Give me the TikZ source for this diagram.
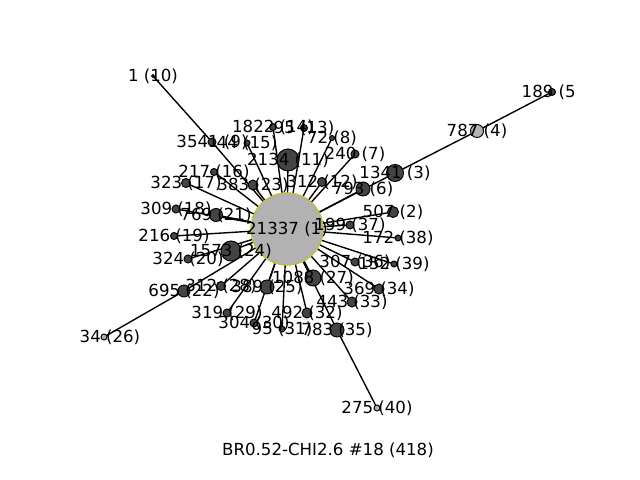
\documentclass[tikz,border=0pt]{standalone}
\usepackage{fontspec}
\setmainfont{DejaVu Sans}
\usetikzlibrary{backgrounds}
\definecolor{darkfill}{RGB}{68,68,68}
\definecolor{lightfill}{RGB}{178,178,178}
\definecolor{olive}{RGB}{191,191,64}
\begin{document}
\begin{tikzpicture}[x=0.01in,y=-0.01in,
  dk/.style={circle,fill=darkfill,draw=black,line width=0.7pt,inner sep=0pt,minimum size=#1*1.4454pt},
  lt/.style={circle,fill=lightfill,draw=black,line width=0.7pt,inner sep=0pt,minimum size=#1*1.4454pt},
  hub/.style={circle,fill=lightfill,draw=olive,line width=1pt,inner sep=0pt,minimum size=#1*1.4454pt},
  lbl/.style={inner sep=0pt,font=\fontsize{12}{14}\selectfont},
  edge/.style={draw=black,line width=1pt}]
\useasboundingbox (0,0) rectangle (640,480);
% nodes
\node[hub=36] (c) at (287,229) {};
\foreach \n/\x/\y/\r in {
  n2/393/212/5.5, n3/395/173/8.5, n5/552/92/3.5, n6/363/189/7,
  n7/355/154/4, n8/332/138/2.5, n9/212/142/4, n10/153/76/1.5,
  n11/288/160/11, n12/322/182/4.5, n13/304/128/3.5, n14/273/127/3.5,
  n15/247/143/3, n16/214/172/3.5, n17/186/183/4.5, n18/176/209/4,
  n19/174/236/3.5, n20/188/259/4, n21/216/215/6.5, n22/184/291/6,
  n23/253/185/5, n24/231/251/10, n25/267/287/7, n27/313/278/8,
  n28/221/286/4.5, n29/227/313/4, n30/254/323/4, n31/282/329/3,
  n32/307/313/5, n33/352/302/5, n34/379/289/5, n35/337/330/7,
  n36/355/262/4, n37/350/225/4, n38/398/238/3, n39/394/264/3}
  {\node[dk=\r] (\n) at (\x,\y) {};}
\node[lt=6.5] (n4) at (477,131) {};
\node[lt=3] (n26) at (104,337) {};
\node[lt=3] (n40) at (377,408) {};
% edges
\begin{scope}[on background layer]
  \foreach \n in {n2,n3,n6,n7,n8,n9,n11,n12,n13,n14,n15,n16,n17,n18,n19,n20,
    n21,n22,n23,n24,n25,n27,n28,n29,n30,n31,n32,n33,n34,n35,n36,n37,n38,n39}
    {\draw[edge] (c.center) -- (\n.center);}
  \draw[edge] (n9.center) -- (n10.center);
  \draw[edge] (n22.center) -- (n26.center);
  \draw[edge] (n35.center) -- (n40.center);
  \draw[edge] (n3.center) -- (n4.center);
  \draw[edge] (n4.center) -- (n5.center);
\end{scope}
% labels
\begin{scope}
  \clip (0,57.6) rectangle (576,427);
  \node[lbl] (lc) at (c.center) {21337 (1)};
  \foreach \n/\t in {
    n2/507 (2), n3/1341 (3), n4/787 (4), n5/189 (5), n6/793 (6),
    n7/240 (7), n8/72 (8), n9/3541 (9), n10/1 (10), n11/2134 (11),
    n12/312 (12), n13/95 (13), n14/1822 (14), n15/44 (15), n16/217 (16),
    n17/323 (17), n18/309 (18), n19/216 (19), n20/324 (20), n21/769 (21),
    n22/695 (22), n23/383 (23), n24/1573 (24), n25/389 (25),
    n27/1088 (27), n28/312 (28), n29/319 (29), n30/304 (30), n31/95 (31),
    n32/492 (32), n33/443 (33), n34/369 (34), n35/783 (35), n36/307 (36),
    n37/199 (37), n38/172 (38), n39/152 (39), n40/275 (40)}
    {\node[lbl] (l\n) at (\n.center) {\t};}
  \node[lbl] (ln26) at ([xshift=4.3pt]n26.center) {34 (26)};
\end{scope}
\node[lbl] (title) at (328,450) {BR0.52-CHI2.6 \#18 (418)};
\end{tikzpicture}
\end{document}
